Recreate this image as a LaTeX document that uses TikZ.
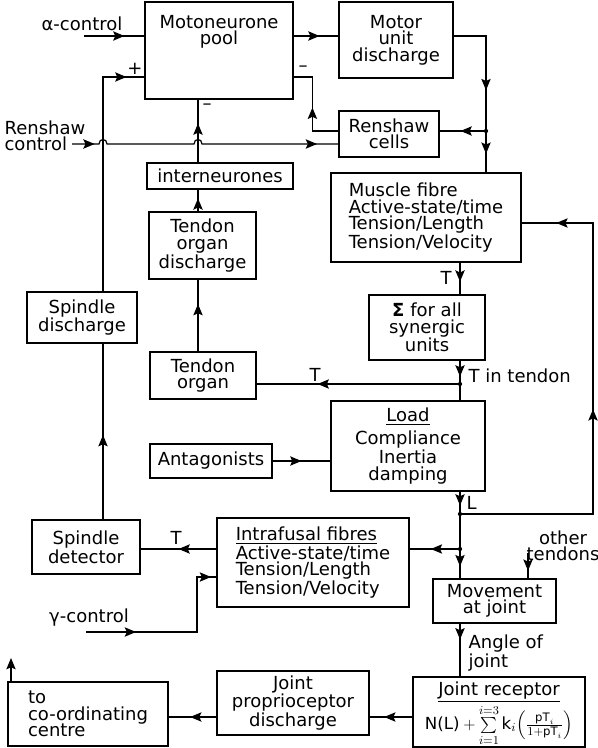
\documentclass[tikz,border=0pt]{standalone}
\usepackage{amsmath}
\usepackage{fontspec}
\setmainfont{DejaVu Sans}
\usetikzlibrary{arrows.meta, positioning, calc, decorations.markings}

\begin{document}
\begin{tikzpicture}[x=0.75pt, y=-0.75pt, line width=0.9pt,
    font=\fontsize{13.5}{12.4}\selectfont,
    >={Stealth[length=8.5pt, width=7pt, inset=1.6pt]},
    blk/.style={draw, align=center, inner sep=0pt},
    sz/.style 2 args={minimum width=#1*0.75pt, minimum height=#2*0.75pt},
    ar/.style={postaction={decorate, decoration={markings,
        mark=at position #1 with {\arrow{>}}}}},
    lbl/.style={inner sep=0pt, align=center}]
    \useasboundingbox (0,0) rectangle (597,748);

    \node[blk, sz={148}{97}, label={[lbl, anchor=north, yshift=-10pt]north:{Motoneurone\\pool}}] (mot) at (219,50.5) {};
    \node[blk, sz={114}{76}] (mud) at (396,40) {Motor\\unit\\discharge};
    \node[blk, sz={100}{46}] (ren) at (389,134) {Renshaw\\cells};
    \node[blk, sz={146}{26}] (intn) at (220,176) {interneurones};
    \node[blk, sz={107}{67}] (tod) at (202.5,245.5) {Tendon\\organ\\discharge};
    \node[blk, sz={106}{47}] (tor) at (203,375.5) {Tendon\\organ};
    \node[blk, sz={110}{51}] (spd) at (82,317.5) {Spindle\\discharge};
    \node[blk, sz={190}{89}, align=left] (mus) at (426,217.5) {Muscle fibre\\Active-state/time\\Tension/Length\\Tension/Velocity};
    \node[blk, sz={116}{65}] (sig) at (427,327.5) {\textbf{Σ} for all\\synergic\\units};
    \node[blk, sz={154}{90}] (load) at (408,446) {\underline{Load}\\[3pt]Compliance\\Inertia\\damping};
    \node[blk, sz={122}{34}] (ant) at (211,461) {Antagonists};
    \node[blk, sz={108}{54}] (sdet) at (86,547) {Spindle\\detector};
    \node[blk, sz={192}{89}, align=left] (ifb) at (313,562.5) {\underline{Intrafusal fibres}\\Active-state/time\\Tension/Length\\Tension/Velocity};
    \node[blk, sz={123}{44}] (mov) at (494.5,601) {Movement\\at joint};
    \node[blk, sz={172}{70},
        label={[lbl, anchor=north, yshift=-3.5pt]north:{\underline{Joint receptor}}},
        label={[lbl, anchor=south, yshift=1pt, font=\fontsize{12.5}{12}\selectfont]south:{$\text{N(L)}+\sum\limits_{i=1}^{i=3}\text{k}_i\Bigl(\frac{\text{pT}_i}{1+\text{pT}_i}\Bigr)$}}] (jr) at (499,712) {};
    \node[blk, sz={152}{64}] (jpd) at (293,703) {Joint\\proprioceptor\\discharge};
    \node[blk, sz={160}{64}, align=left] (cc) at (88,714) {to\\co-ordinating\\centre};

    \node[lbl] (ac) at (82,24) {α-control};
    \node[lbl, align=left, anchor=west] (rc) at (4,136) {Renshaw\\control};
    \node[lbl] (gcl) at (89,618) {γ-control};
    \node[lbl] (pl) at (135,69) {+};
    \node[lbl] (m1) at (303,69) {–};
    \node[lbl] (m2) at (207,107) {–};
    \node[lbl] (t1) at (446,278) {T};
    \node[lbl, anchor=west] (tt) at (468,376) {T in tendon};
    \node[lbl] (t2) at (315,375) {T};
    \node[lbl, anchor=west] (ll) at (466,503) {L};
    \node[lbl] (otd) at (563,546) {other\\tendons};
    \node[lbl] (t3) at (176,538) {T};
    \node[lbl, align=left, anchor=west] (ang) at (468,653) {Angle of\\joint};

    \coordinate (ain) at (84,36);
    \coordinate (rin) at (72,144);
    \coordinate (gin) at (86,632);
    \coordinate (sx) at (103,77);
    \coordinate (mx) at (198,0);
    \coordinate (j1) at (486,131);
    \coordinate (j2) at (460,384);
    \coordinate (j3) at (460,514);
    \coordinate (j4) at (460,549);
    \coordinate (fb) at (593,223);
    \coordinate (gc) at (197,577);
    \coordinate (ot) at (528,553);
    \coordinate (up) at (11,658);
    \coordinate (ry) at (0,717);

    \draw[ar=0.67] (ain) -- (ain -| mot.west);
    \draw[ar=0.58] (mot.east |- ain) -- (mud.west |- ain);
    \draw[ar=0.68] (mud.east |- ain) -| (j1);
    \draw[ar=0.55] (j1) -- (mus.north -| j1);
    \draw[ar=0.55] (j1) -- (ren.east |- j1);
    \draw[ar=0.5] (ren.west |- j1) -| ++(-26,-54) -- (mot.east |- sx);
    \draw[ar=17pt, ar=-16pt] (rin) -- ($(sx |- rin)+(-4,0)$) .. controls +(0,-6) and +(0,-6) .. +(8,0)
        -- ($(mx |- rin)+(-4,0)$) .. controls +(0,-6) and +(0,-6) .. +(8,0) -- (ren.west |- rin);
    \draw[ar=0.93] (spd.north -| sx) |- (mot.west |- sx);
    \draw[ar=0.48] (sdet.north -| sx) -- (spd.south -| sx);
    \draw[ar=0.62] (intn.north -| mx) -- (mot.south -| mx);
    \draw[ar=0.6] (tod.north -| mx) -- (intn.south -| mx);
    \draw[ar=0.66] (tor.north -| mx) -- (tod.south -| mx);
    \draw[ar=0.6] (mus.south -| j2) -- (sig.north -| j2);
    \draw[ar=0.4] (sig.south -| j2) -- (load.north -| j2);
    \draw[ar=0.7] (j2) -- (tor.east |- j2);
    \draw[ar=0.5] (ant.east) -- (load.west |- ant.east);
    \draw[ar=0.16, ar=0.86] (load.south -| j3) -- (mov.north -| j3);
    \draw[ar=0.48, ar=0.93] (j3) -| (fb) -- (mus.east |- fb);
    \draw[ar=0.58] (j4) -- (ifb.east |- j4);
    \draw[ar=0.5] (ifb.west |- j4) -- (sdet.east |- j4);
    \draw[ar=0.27, ar=-4pt] (gin) -| (gc) -- (gc -| ifb.west);
    \draw[ar=0.7] (ot) -- (mov.north -| ot);
    \draw[ar=0.3] (mov.south -| j2) -- (jr.north -| j2);
    \draw[ar=0.66] (jr.west |- ry) -- (jpd.east |- ry);
    \draw[ar=0.55] (jpd.west |- ry) -- (cc.east |- ry);
    \draw[->] (cc.north -| up) -- (up);
    \foreach \j in {j1,j2,j3,j4} \fill (\j) circle (1.6pt);
\end{tikzpicture}
\end{document}
